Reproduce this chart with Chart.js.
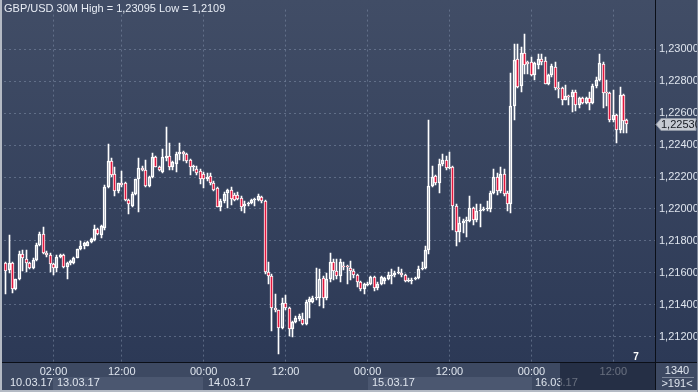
<!DOCTYPE html>
<html>
<head>
<meta charset="utf-8">
<script src="https://cdn.jsdelivr.net/npm/chart.js@4.4.1/dist/chart.umd.min.js"></script>
<style>
  html, body { margin: 0; padding: 0; background: #2f3b55; }
  #wrap { width: 698px; height: 392px; }
</style>
</head>
<body>
<div id="wrap"><canvas id="chart" width="698" height="392"></canvas></div>
<script>
const titleText = "GBP/USD 30M High = 1,23095 Low = 1,2109";
const slotCount = 191;
const barsInfo = ["1340", ">191<"];
const timeTickSlots = [14, 34, 58, 82, 106, 130, 154, 178];
const timeTickLabels = ["02:00", "12:00", "00:00", "12:00", "00:00", "12:00", "00:00", "12:00"];
const dayStartSlots = [0, 14, 58, 106, 154];
const dayLabels = ["10.03.17", "13.03.17", "14.03.17", "15.03.17", "16.03.17"];

// 30 minute candles
const opens = [
  1.21661, 1.21620, 1.21661, 1.21501, 1.21562, 1.21718, 1.21687, 1.21659, 1.21633, 1.21683,
  1.21775, 1.21846, 1.21724, 1.21710, 1.21653, 1.21633, 1.21698, 1.21714, 1.21637, 1.21663,
  1.21663, 1.21694, 1.21748, 1.21765, 1.21771, 1.21791, 1.21805, 1.21876, 1.21840, 1.21880,
  1.22140, 1.22303, 1.22217, 1.22110, 1.22160, 1.22160, 1.22059, 1.22018, 1.22096, 1.22185,
  1.22258, 1.22246, 1.22144, 1.22201, 1.22323, 1.22262, 1.22232, 1.22319, 1.22333, 1.22266,
  1.22282, 1.22347, 1.22357, 1.22343, 1.22307, 1.22262, 1.22252, 1.22238, 1.22217, 1.22185,
  1.22205, 1.22160, 1.22130, 1.22014, 1.22049, 1.22100, 1.22116, 1.22089, 1.22089, 1.22069,
  1.22018, 1.22029, 1.22035, 1.22055, 1.22055, 1.22075, 1.22049, 1.21608, 1.21582, 1.21379,
  1.21365, 1.21253, 1.21409, 1.21379, 1.21247, 1.21292, 1.21308, 1.21308, 1.21277, 1.21420,
  1.21420, 1.21444, 1.21440, 1.21568, 1.21440, 1.21560, 1.21665, 1.21614, 1.21580, 1.21645,
  1.21640, 1.21630, 1.21610, 1.21584, 1.21543, 1.21499, 1.21527, 1.21533, 1.21574, 1.21507,
  1.21533, 1.21548, 1.21564, 1.21580, 1.21584, 1.21600, 1.21600, 1.21584, 1.21548, 1.21550,
  1.21560, 1.21568, 1.21624, 1.21633, 1.21742, 1.22145, 1.22205, 1.22161, 1.22282, 1.22306,
  1.22256, 1.22266, 1.22019, 1.21857, 1.21912, 1.21924, 1.21926, 1.22005, 1.21928, 1.21985,
  1.21993, 1.21999, 1.22000, 1.22102, 1.22198, 1.22113, 1.22218, 1.22102, 1.22031, 1.22643,
  1.22939, 1.22769, 1.22980, 1.22918, 1.22918, 1.22837, 1.22904, 1.22939, 1.22929, 1.22786,
  1.22837, 1.22888, 1.22755, 1.22755, 1.22684, 1.22708, 1.22700, 1.22735, 1.22653, 1.22698,
  1.22663, 1.22694, 1.22663, 1.22769, 1.22810, 1.22908, 1.22735, 1.22725, 1.22555, 1.22586,
  1.22496, 1.22714, 1.22555
];
const highs = [
  1.21665, 1.21836, 1.21665, 1.21562, 1.21734, 1.21744, 1.21744, 1.21670, 1.21690, 1.21785,
  1.21856, 1.21890, 1.21735, 1.21724, 1.21660, 1.21714, 1.21720, 1.21720, 1.21670, 1.21680,
  1.21700, 1.21750, 1.21799, 1.21790, 1.21800, 1.21820, 1.21901, 1.21880, 1.21901, 1.22150,
  1.22410, 1.22320, 1.22262, 1.22165, 1.22238, 1.22170, 1.22065, 1.22105, 1.22190, 1.22317,
  1.22270, 1.22307, 1.22205, 1.22353, 1.22330, 1.22270, 1.22374, 1.22515, 1.22414, 1.22300,
  1.22355, 1.22412, 1.22365, 1.22350, 1.22315, 1.22275, 1.22272, 1.22250, 1.22232, 1.22225,
  1.22225, 1.22175, 1.22140, 1.22060, 1.22105, 1.22125, 1.22135, 1.22100, 1.22105, 1.22080,
  1.22053, 1.22045, 1.22065, 1.22070, 1.22096, 1.22080, 1.22055, 1.21669, 1.21590, 1.21470,
  1.21370, 1.21440, 1.21460, 1.21385, 1.21300, 1.21332, 1.21340, 1.21349, 1.21430, 1.21450,
  1.21455, 1.21633, 1.21623, 1.21580, 1.21600, 1.21722, 1.21689, 1.21689, 1.21689, 1.21669,
  1.21650, 1.21675, 1.21625, 1.21590, 1.21550, 1.21535, 1.21545, 1.21580, 1.21580, 1.21545,
  1.21580, 1.21575, 1.21604, 1.21624, 1.21610, 1.21635, 1.21624, 1.21590, 1.21565, 1.21565,
  1.21575, 1.21640, 1.21665, 1.21770, 1.22555, 1.22272, 1.22215, 1.22313, 1.22343, 1.22333,
  1.22357, 1.22272, 1.22030, 1.21948, 1.21935, 1.21948, 1.22080, 1.22010, 1.22029, 1.22029,
  1.22010, 1.22050, 1.22110, 1.22251, 1.22225, 1.22265, 1.22251, 1.22110, 1.22851, 1.23035,
  1.23035, 1.23015, 1.23095, 1.22925, 1.22949, 1.22920, 1.22973, 1.22973, 1.22953, 1.22847,
  1.22908, 1.22918, 1.22796, 1.22765, 1.22776, 1.22714, 1.22745, 1.22745, 1.22704, 1.22704,
  1.22704, 1.22735, 1.22786, 1.22827, 1.22973, 1.22922, 1.22806, 1.22735, 1.22745, 1.22596,
  1.22765, 1.22720, 1.22565
];
const lows = [
  1.21466, 1.21600, 1.21474, 1.21490, 1.21555, 1.21612, 1.21602, 1.21625, 1.21625, 1.21675,
  1.21765, 1.21720, 1.21700, 1.21602, 1.21588, 1.21602, 1.21690, 1.21630, 1.21562, 1.21650,
  1.21655, 1.21690, 1.21740, 1.21750, 1.21765, 1.21785, 1.21800, 1.21840, 1.21815, 1.21870,
  1.22130, 1.22200, 1.22079, 1.22100, 1.22140, 1.22050, 1.21968, 1.22010, 1.22090, 1.21978,
  1.22240, 1.22140, 1.22135, 1.22195, 1.22260, 1.22240, 1.22225, 1.22300, 1.22242, 1.22242,
  1.22232, 1.22307, 1.22303, 1.22290, 1.22211, 1.22240, 1.22215, 1.22154, 1.22134, 1.22175,
  1.22150, 1.22110, 1.22010, 1.21988, 1.22040, 1.22008, 1.22022, 1.22050, 1.22055, 1.21988,
  1.21972, 1.22020, 1.22030, 1.22018, 1.22050, 1.22040, 1.21595, 1.21531, 1.21237, 1.21355,
  1.21090, 1.21245, 1.21370, 1.21206, 1.21196, 1.21285, 1.21300, 1.21270, 1.21270, 1.21318,
  1.21410, 1.21430, 1.21389, 1.21379, 1.21430, 1.21540, 1.21554, 1.21560, 1.21543, 1.21620,
  1.21527, 1.21554, 1.21570, 1.21513, 1.21483, 1.21467, 1.21515, 1.21525, 1.21483, 1.21495,
  1.21525, 1.21533, 1.21555, 1.21527, 1.21575, 1.21595, 1.21575, 1.21540, 1.21540, 1.21533,
  1.21555, 1.21560, 1.21615, 1.21625, 1.21716, 1.22135, 1.22150, 1.22100, 1.22272, 1.22245,
  1.22250, 1.21867, 1.21770, 1.21796, 1.21847, 1.21827, 1.21918, 1.21898, 1.21918, 1.21888,
  1.21985, 1.21990, 1.21980, 1.22095, 1.22088, 1.22100, 1.22080, 1.21990, 1.21974, 1.22555,
  1.22755, 1.22731, 1.22847, 1.22847, 1.22830, 1.22806, 1.22878, 1.22900, 1.22780, 1.22776,
  1.22827, 1.22745, 1.22694, 1.22653, 1.22680, 1.22653, 1.22606, 1.22612, 1.22633, 1.22655,
  1.22655, 1.22623, 1.22655, 1.22760, 1.22800, 1.22633, 1.22643, 1.22545, 1.22545, 1.22415,
  1.22476, 1.22476, 1.22476
];
const closes = [
  1.21612, 1.21661, 1.21501, 1.21562, 1.21718, 1.21694, 1.21659, 1.21633, 1.21683, 1.21775,
  1.21846, 1.21724, 1.21710, 1.21653, 1.21629, 1.21698, 1.21714, 1.21637, 1.21663, 1.21673,
  1.21694, 1.21748, 1.21771, 1.21785, 1.21791, 1.21811, 1.21876, 1.21846, 1.21893, 1.22140,
  1.22303, 1.22211, 1.22110, 1.22160, 1.22150, 1.22059, 1.22029, 1.22096, 1.22185, 1.22258,
  1.22246, 1.22144, 1.22201, 1.22323, 1.22262, 1.22246, 1.22323, 1.22333, 1.22266, 1.22292,
  1.22347, 1.22357, 1.22343, 1.22298, 1.22262, 1.22270, 1.22225, 1.22185, 1.22185, 1.22201,
  1.22160, 1.22120, 1.22014, 1.22049, 1.22096, 1.22116, 1.22063, 1.22059, 1.22063, 1.22014,
  1.22029, 1.22035, 1.22055, 1.22063, 1.22079, 1.22049, 1.21602, 1.21582, 1.21379, 1.21365,
  1.21253, 1.21409, 1.21379, 1.21247, 1.21292, 1.21318, 1.21328, 1.21277, 1.21420, 1.21435,
  1.21444, 1.21450, 1.21562, 1.21440, 1.21560, 1.21665, 1.21614, 1.21580, 1.21665, 1.21640,
  1.21635, 1.21614, 1.21584, 1.21543, 1.21499, 1.21527, 1.21533, 1.21574, 1.21507, 1.21533,
  1.21574, 1.21568, 1.21584, 1.21584, 1.21600, 1.21604, 1.21584, 1.21548, 1.21558, 1.21558,
  1.21568, 1.21624, 1.21633, 1.21746, 1.22145, 1.22201, 1.22161, 1.22282, 1.22306, 1.22256,
  1.22266, 1.22019, 1.21857, 1.21912, 1.21924, 1.21928, 1.22005, 1.21928, 1.21989, 1.21993,
  1.21999, 1.22005, 1.22102, 1.22198, 1.22113, 1.22218, 1.22094, 1.22031, 1.22643, 1.22935,
  1.22765, 1.22980, 1.22904, 1.22910, 1.22837, 1.22912, 1.22939, 1.22922, 1.22786, 1.22837,
  1.22898, 1.22755, 1.22750, 1.22684, 1.22708, 1.22700, 1.22735, 1.22653, 1.22698, 1.22663,
  1.22694, 1.22663, 1.22769, 1.22810, 1.22912, 1.22729, 1.22725, 1.22555, 1.22586, 1.22496,
  1.22714, 1.22551, 1.22530
];

const FONT = "'Liberation Sans Narrow', 'Liberation Sans', Arial, sans-serif";
const textColor = "#dfe5ee";
const gridColor = "rgba(128,142,168,0.55)";
const downColor = "#e3173e";
const PLOT_BOTTOM = 363;
const AXIS_X = 655.5;

const slots = Array.from({ length: slotCount }, (_, i) => i);
const bodies = opens.map((o, i) => [o, closes[i]]);
const upperWicks = highs.map((h, i) => [Math.max(opens[i], closes[i]), h]);
const lowerWicks = lows.map((l, i) => [l, Math.min(opens[i], closes[i])]);
const bodyFill = closes.map((c, i) => c < opens[i] ? downColor : "rgba(0,0,0,0)");

// snap bars to whole pixels so the candles stay crisp
const pixelSnap = {
  id: "pixelSnap",
  afterDatasetsUpdate(chart) {
    chart.data.datasets.forEach((ds, di) => {
      chart.getDatasetMeta(di).data.forEach(el => {
        el.x = Math.floor(el.x) + 0.5;
        let top = Math.round(el.y), bot = Math.round(el.base);
        if (di === 0 && Math.abs(bot - top) < 1) bot = top + 1;
        el.y = top;
        el.base = bot;
      });
    });
  }
};

const background = {
  id: "background",
  beforeDraw(chart) {
    const ctx = chart.ctx, x = chart.scales.x;
    const g = ctx.createLinearGradient(0, 0, 0, PLOT_BOTTOM);
    g.addColorStop(0, "#414d66");
    g.addColorStop(1, "#2c3956");
    ctx.save();
    ctx.fillStyle = g;
    ctx.fillRect(0, 0, 698, PLOT_BOTTOM);
    ctx.fillStyle = "#3d4962";
    ctx.fillRect(0, PLOT_BOTTOM, 698, 392 - PLOT_BOTTOM);
    // shaded boxes behind every other date
    dayStartSlots.forEach((s, i) => {
      if (i % 2 === 0) return;
      const x0 = x.getPixelForValue(s);
      const x1 = i + 1 < dayStartSlots.length ? x.getPixelForValue(dayStartSlots[i + 1]) : AXIS_X;
      ctx.fillStyle = "#4b5770";
      ctx.fillRect(Math.round(x0), 377, Math.round(x1 - x0), 13);
    });
    ctx.restore();
  }
};

const overlay = {
  id: "overlay",
  afterDraw(chart) {
    const ctx = chart.ctx, x = chart.scales.x, y = chart.scales.y;
    ctx.save();
    ctx.font = "11px " + FONT;
    ctx.textBaseline = "middle";

    // date row
    ctx.fillStyle = textColor;
    ctx.textAlign = "left";
    dayStartSlots.forEach((s, i) => {
      const px = i === 0 ? 10 : Math.round(x.getPixelForValue(s)) + 4;
      ctx.fillText(dayLabels[i], px, 383);
    });

    // darker zone at the right of the time axis
    ctx.fillStyle = "rgba(22,30,50,0.6)";
    ctx.fillRect(560, PLOT_BOTTOM, AXIS_X - 560, 27);

    // separators
    ctx.strokeStyle = "#0b0f18";
    ctx.lineWidth = 1;
    ctx.beginPath();
    ctx.moveTo(AXIS_X, 0); ctx.lineTo(AXIS_X, 392);
    ctx.moveTo(0, PLOT_BOTTOM - 0.5); ctx.lineTo(698, PLOT_BOTTOM - 0.5);
    ctx.stroke();

    // title
    ctx.fillStyle = "#e8edf5";
    ctx.textBaseline = "alphabetic";
    ctx.fillText(titleText, 4, 12);

    // last price marker
    const last = closes[closes.length - 1];
    const yc = Math.round(y.getPixelForValue(last)) + 0.5;
    ctx.beginPath();
    ctx.moveTo(656, yc);
    ctx.lineTo(661, yc - 6);
    ctx.lineTo(696, yc - 6);
    ctx.lineTo(696, yc + 6);
    ctx.lineTo(661, yc + 6);
    ctx.closePath();
    ctx.fillStyle = "#c6cad2";
    ctx.fill();
    ctx.strokeStyle = "#8d95a3";
    ctx.stroke();
    ctx.fillStyle = "#141820";
    ctx.textBaseline = "middle";
    ctx.fillText(last.toFixed(5).replace(".", ","), 661, yc + 0.5);

    // bars info in the corner
    ctx.fillStyle = textColor;
    ctx.textAlign = "center";
    ctx.fillText(barsInfo[0], 677, 371);
    ctx.fillText(barsInfo[1], 677, 384);
    ctx.strokeStyle = "#7d879a";
    ctx.beginPath();
    ctx.moveTo(662, 377.5); ctx.lineTo(694, 377.5);
    ctx.stroke();

    ctx.fillStyle = "#ffffff";
    ctx.font = "bold 10px " + FONT;
    ctx.fillText("7", 636, 357);

    // frame
    ctx.fillStyle = "#b4bac4";
    ctx.fillRect(0, 0, 2, 392);
    ctx.fillRect(0, 390, 698, 2);
    ctx.fillStyle = "#7f8899";
    ctx.fillRect(697, 0, 1, 392);
    ctx.restore();
  }
};

new Chart(document.getElementById("chart"), {
  type: "bar",
  data: {
    labels: slots,
    datasets: [
      {
        data: bodies, backgroundColor: bodyFill, borderColor: "#ffffff",
        borderWidth: 1, borderSkipped: false, barThickness: 3, grouped: false, order: 0
      },
      { data: upperWicks, backgroundColor: "#ffffff", borderWidth: 0, barThickness: 1, grouped: false, order: 1 },
      { data: lowerWicks, backgroundColor: "#ffffff", borderWidth: 0, barThickness: 1, grouped: false, order: 2 }
    ]
  },
  options: {
    responsive: false,
    devicePixelRatio: 1,
    animation: false,
    events: [],
    layout: { padding: { left: 4, top: 1, right: 0, bottom: 0 } },
    plugins: { legend: { display: false }, tooltip: { enabled: false } },
    scales: {
      x: {
        type: "category",
        offset: true,
        afterFit: s => { s.height = 29; },
        grid: { offset: false, color: gridColor, drawTicks: false },
        border: { display: false, dash: [2, 3] },
        ticks: {
          autoSkip: false, maxRotation: 0, padding: 2, color: textColor,
          font: { family: FONT, size: 11 },
          callback: (v, i) => {
            const t = timeTickSlots.indexOf(i);
            return t < 0 ? null : timeTickLabels[t];
          }
        }
      },
      y: {
        position: "right",
        min: 1.21035,
        max: 1.23249,
        afterFit: s => { s.width = 42; },
        grid: { color: gridColor, drawTicks: false },
        border: { display: false, dash: [2, 3] },
        ticks: {
          stepSize: 0.002, includeBounds: false, padding: 3, color: textColor,
          font: { family: FONT, size: 11 },
          callback: v => v > 1.2315 ? null : v.toFixed(5).replace(".", ",")
        }
      }
    }
  },
  plugins: [pixelSnap, background, overlay]
});
</script>
</body>
</html>
